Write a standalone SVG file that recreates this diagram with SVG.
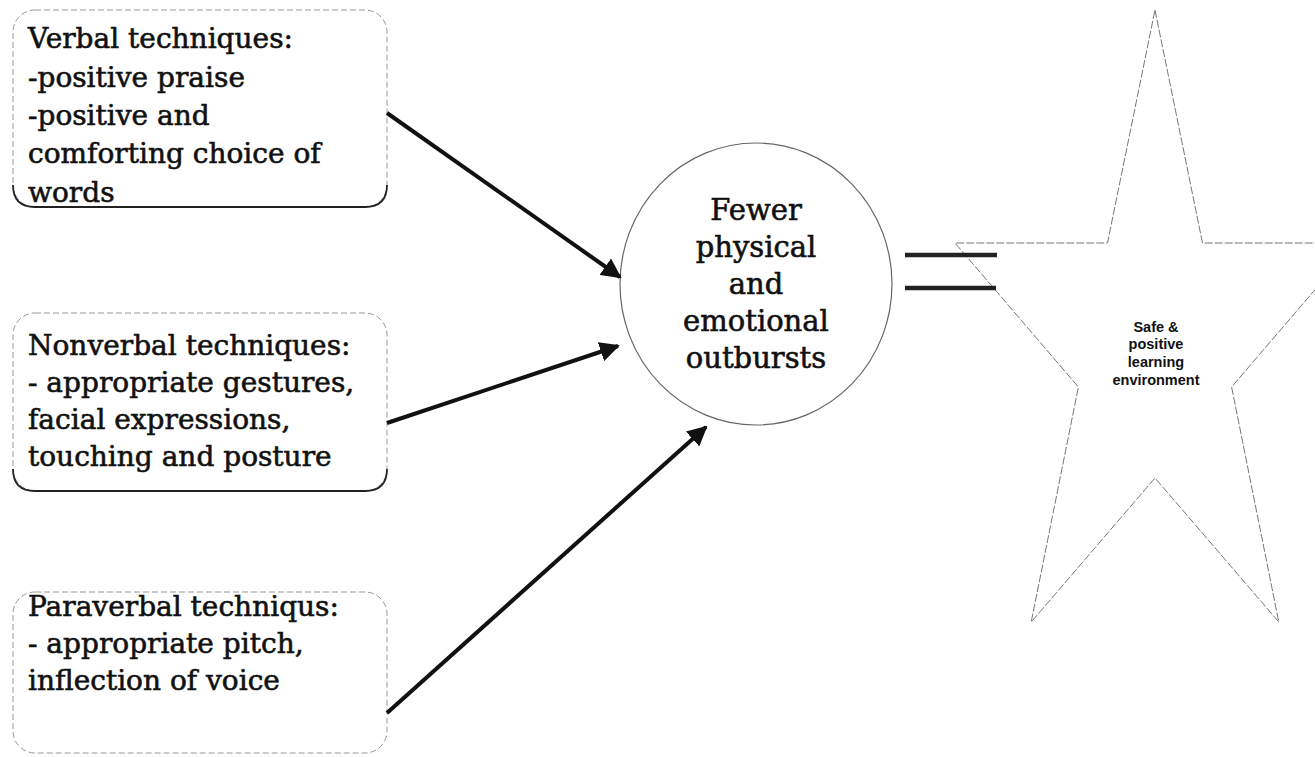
<svg xmlns="http://www.w3.org/2000/svg" width="1315" height="757" viewBox="0 0 1315 757">
<style>
.box{fill:#fff;stroke:#999;stroke-width:1;stroke-dasharray:6 3}
.boxb{fill:none;stroke:#222;stroke-width:1.8}
.t{font-family:"DejaVu Serif",serif;font-size:28px;fill:#111;stroke:#111;stroke-width:0.6}
.ct{font-family:"DejaVu Serif",serif;font-size:29px;fill:#111;stroke:#111;stroke-width:0.6;text-anchor:middle}
.st{font-family:"Liberation Sans",Arial,sans-serif;font-size:14.5px;font-weight:bold;fill:#111;text-anchor:middle}
.conn{stroke:#111;stroke-width:4;fill:none}
.eq{stroke:#222;stroke-width:4.5;fill:none}
</style>
<defs>
<marker id="ah" viewBox="0 0 10 10" refX="9" refY="5" markerWidth="5" markerHeight="5" orient="auto" markerUnits="strokeWidth">
<path d="M0,0 L10,5 L0,10 z" fill="#111"/>
</marker>
</defs>
<rect width="1315" height="757" fill="#fff"/>

<g id="node-verbal">
<rect class="box" x="13" y="10" width="374" height="197" rx="22"/>
<path class="boxb" d="M13,185 Q13,207 35,207 L365,207 Q387,207 387,185"/>
<text class="t" x="28" y="48">Verbal techniques:</text>
<text class="t" x="28" y="87">-positive praise</text>
<text class="t" x="28" y="125">-positive and</text>
<text class="t" x="28" y="163">comforting choice of</text>
<text class="t" x="28" y="202">words</text>
</g>

<g id="node-nonverbal">
<rect class="box" x="13" y="313" width="374" height="178" rx="22"/>
<path class="boxb" d="M13,469 Q13,491 35,491 L365,491 Q387,491 387,469"/>
<text class="t" x="28" y="355">Nonverbal techniques:</text>
<text class="t" x="28" y="392">- appropriate gestures,</text>
<text class="t" x="28" y="429">facial expressions,</text>
<text class="t" x="28" y="466">touching and posture</text>
</g>

<g id="node-paraverbal">
<rect class="box" x="13" y="592" width="374" height="161" rx="22"/>
<text class="t" x="28" y="616">Paraverbal techniqus:</text>
<text class="t" x="28" y="653">- appropriate pitch,</text>
<text class="t" x="28" y="690">inflection of voice</text>
</g>

<g id="node-outbursts">
<ellipse cx="756" cy="284" rx="136" ry="141" fill="#fff" stroke="#666" stroke-width="1.2"/>
<text class="ct" x="756" y="220">Fewer</text>
<text class="ct" x="756" y="257">physical</text>
<text class="ct" x="756" y="294">and</text>
<text class="ct" x="756" y="331">emotional</text>
<text class="ct" x="756" y="368">outbursts</text>
</g>

<g id="node-environment">
<polygon points="1155,10 1202.5,243 1355,243 1231.6,387 1278.8,622 1155,478 1031.2,622 1078.4,387 955,243 1107.5,243" fill="#fff" stroke="#777" stroke-width="1" stroke-dasharray="8 2"/>
<text class="st" x="1156" y="332">Safe &amp;</text>
<text class="st" x="1156" y="349">positive</text>
<text class="st" x="1156" y="367">learning</text>
<text class="st" x="1156" y="385">environment</text>
</g>

<g id="connectors">
<line class="conn" x1="387" y1="113" x2="620" y2="277" marker-end="url(#ah)"/>
<line class="conn" x1="387" y1="423" x2="618" y2="346" marker-end="url(#ah)"/>
<line class="conn" x1="387" y1="713" x2="706" y2="427" marker-end="url(#ah)"/>
<line class="eq" x1="905" y1="255" x2="997" y2="255"/>
<line class="eq" x1="905" y1="288" x2="996" y2="288"/>
</g>
</svg>
